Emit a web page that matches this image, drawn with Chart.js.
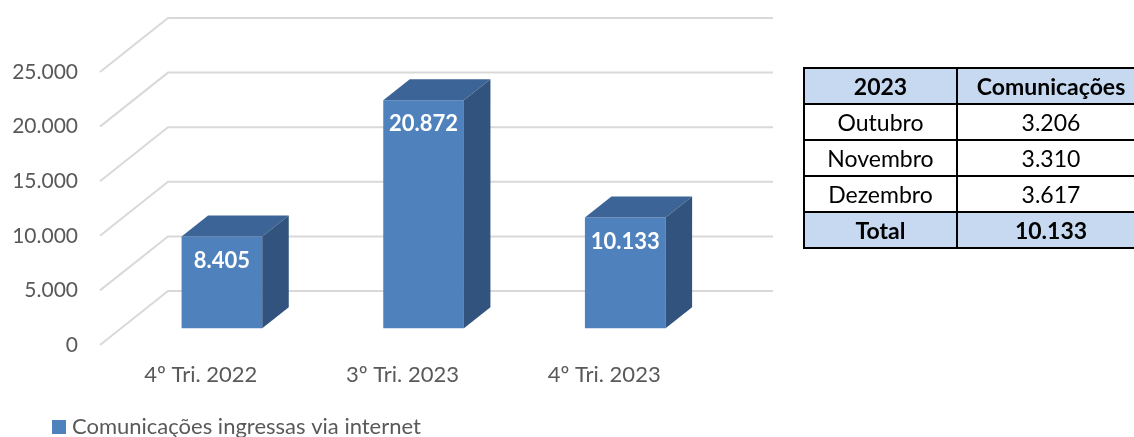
<!DOCTYPE html>
<html lang="pt">
<head>
<meta charset="utf-8">
<title>Comunicações ingressas via internet</title>
<script src="https://cdn.jsdelivr.net/npm/chart.js@4/dist/chart.umd.min.js"></script>
<style>
  html, body { margin: 0; padding: 0; background: #fff; overflow: hidden; }
  #wrap { position: relative; width: 1134px; height: 437px; overflow: hidden; }
  #chart { position: absolute; left: 0; top: 0; }
  #monthly {
    position: absolute; left: 803px; top: 67px;
    border-collapse: collapse; table-layout: fixed; width: 341px;
    font-family: Lato, "Open Sans", sans-serif; font-size: 23px; color: #000;
  }
  #monthly td {
    border: 2px solid #000; height: 34px; padding: 0;
    text-align: center; vertical-align: middle; line-height: 1;
    white-space: nowrap;
  }
  #monthly td.c1 { width: 151px; }
  #monthly td.c2 { width: 186px; }
  #monthly tr.head td, #monthly tr.total td { background: #c6d9f1; font-weight: bold; }
</style>
</head>
<body>
<div id="wrap">
  <canvas id="chart" width="1134" height="437"></canvas>
  <table id="monthly"></table>
</div>
<script>
// Quarterly totals
const categories = ['4º Tri. 2022', '3º Tri. 2023', '4º Tri. 2023'];
const internetValues = [8405, 20872, 10133];
const seriesName = 'Comunicações ingressas via internet';

// Value axis
const yMin = 0;
const yMax = 25000;
const yStep = 5000;

// Monthly breakdown table
const tableHeader = ['2023', 'Comunicações'];
const tableMonths = ['Outubro', 'Novembro', 'Dezembro'];
const tableMonthValues = [3206, 3310, 3617];
const tableTotalLabel = 'Total';
const tableTotal = 10133;

// pt-BR thousands separator
function fmt(n) {
  return String(Math.round(n)).replace(/\B(?=(\d{3})+(?!\d))/g, '.');
}

// Build the table
(function () {
  const t = document.getElementById('monthly');
  function row(cls, a, b) {
    const tr = document.createElement('tr');
    if (cls) tr.className = cls;
    const td1 = document.createElement('td'); td1.className = 'c1'; td1.textContent = a;
    const td2 = document.createElement('td'); td2.className = 'c2'; td2.textContent = b;
    tr.appendChild(td1); tr.appendChild(td2);
    t.appendChild(tr);
  }
  row('head', tableHeader[0], tableHeader[1]);
  tableMonths.forEach((m, i) => row('', m, fmt(tableMonthValues[i])));
  row('total', tableTotalLabel, fmt(tableTotal));
})();

const FONT = 'Lato, "Open Sans", sans-serif';
const AXIS_COLOR = '#595959';
const FRONT = '#4f81bd';
const TOP = '#3c6496';
const SIDE = '#32537e';

// Perspective: full floor depth and the slice of it occupied by the bars
const DEPTH = { dx: 68, dy: -54 };
const BAR_NEAR = 0.31;
const BAR_FAR = 0.70;

const bar3d = {
  id: 'bar3d',
  beforeDatasetsDraw(chart) {
    const { ctx, chartArea: a, scales: { y } } = chart;
    ctx.save();
    ctx.strokeStyle = '#d9d9d9';
    ctx.lineWidth = 2;
    y.ticks.forEach(t => {
      const py = y.getPixelForValue(t.value);
      ctx.beginPath();
      ctx.moveTo(a.left, py);
      ctx.lineTo(a.left + DEPTH.dx, py + DEPTH.dy);
      ctx.lineTo(a.right + DEPTH.dx, py + DEPTH.dy);
      ctx.stroke();
    });
    ctx.restore();
  },
  beforeDatasetDraw(chart) {
    chart.ctx.save();
    chart.ctx.translate(DEPTH.dx * BAR_NEAR, DEPTH.dy * BAR_NEAR);
  },
  afterDatasetDraw(chart) {
    chart.ctx.restore();
  },
  afterDatasetsDraw(chart) {
    const { ctx } = chart;
    const ox = DEPTH.dx * BAR_NEAR, oy = DEPTH.dy * BAR_NEAR;
    const ddx = DEPTH.dx * (BAR_FAR - BAR_NEAR), ddy = DEPTH.dy * (BAR_FAR - BAR_NEAR);
    chart.data.datasets.forEach((ds, di) => {
      const meta = chart.getDatasetMeta(di);
      meta.data.forEach((el, i) => {
        const p = el.getProps(['x', 'y', 'base', 'width'], true);
        const x0 = p.x - p.width / 2 + ox, x1 = p.x + p.width / 2 + ox;
        const yt = p.y + oy, yb = p.base + oy;
        // top face
        ctx.fillStyle = TOP;
        ctx.beginPath();
        ctx.moveTo(x0, yt); ctx.lineTo(x1, yt);
        ctx.lineTo(x1 + ddx, yt + ddy); ctx.lineTo(x0 + ddx, yt + ddy);
        ctx.closePath(); ctx.fill();
        // right face
        ctx.fillStyle = SIDE;
        ctx.beginPath();
        ctx.moveTo(x1, yt); ctx.lineTo(x1 + ddx, yt + ddy);
        ctx.lineTo(x1 + ddx, yb + ddy); ctx.lineTo(x1, yb);
        ctx.closePath(); ctx.fill();
        // value label
        ctx.fillStyle = '#ffffff';
        ctx.font = 'bold 22px ' + FONT;
        ctx.textAlign = 'center';
        ctx.textBaseline = 'middle';
        ctx.fillText(fmt(ds.data[i]), (x0 + x1) / 2, yt + 24);
      });
    });
  },
  afterDraw(chart) {
    // legend entry
    const { ctx } = chart;
    const ds = chart.data.datasets[0];
    ctx.save();
    ctx.fillStyle = ds.backgroundColor;
    ctx.fillRect(52, 420, 14, 14);
    ctx.fillStyle = AXIS_COLOR;
    ctx.font = '22px ' + FONT;
    ctx.textAlign = 'left';
    ctx.textBaseline = 'middle';
    ctx.fillText(ds.label, 72, 427);
    ctx.restore();
  }
};

new Chart(document.getElementById('chart'), {
  type: 'bar',
  data: {
    labels: categories,
    datasets: [{
      label: seriesName,
      data: internetValues,
      backgroundColor: FRONT,
      borderWidth: 0,
      categoryPercentage: 1,
      barPercentage: 0.4,
      clip: false
    }]
  },
  options: {
    responsive: false,
    animation: false,
    devicePixelRatio: 1,
    layout: { padding: { left: 0, top: 72, right: 429, bottom: 0 } },
    plugins: { legend: { display: false }, tooltip: { enabled: false } },
    scales: {
      x: {
        grid: { display: false, drawTicks: false },
        border: { display: false },
        ticks: { color: AXIS_COLOR, font: { family: FONT, size: 22 }, padding: 17, maxRotation: 0 },
        afterFit(s) { s.height = 92; }
      },
      y: {
        min: yMin, max: yMax,
        grid: { display: false, drawTicks: false },
        border: { display: false },
        ticks: { stepSize: yStep, color: AXIS_COLOR, font: { family: FONT, size: 21 }, padding: 22, callback: v => fmt(v) },
        afterFit(s) { s.width = 100; }
      }
    }
  },
  plugins: [bar3d]
});
</script>
</body>
</html>
